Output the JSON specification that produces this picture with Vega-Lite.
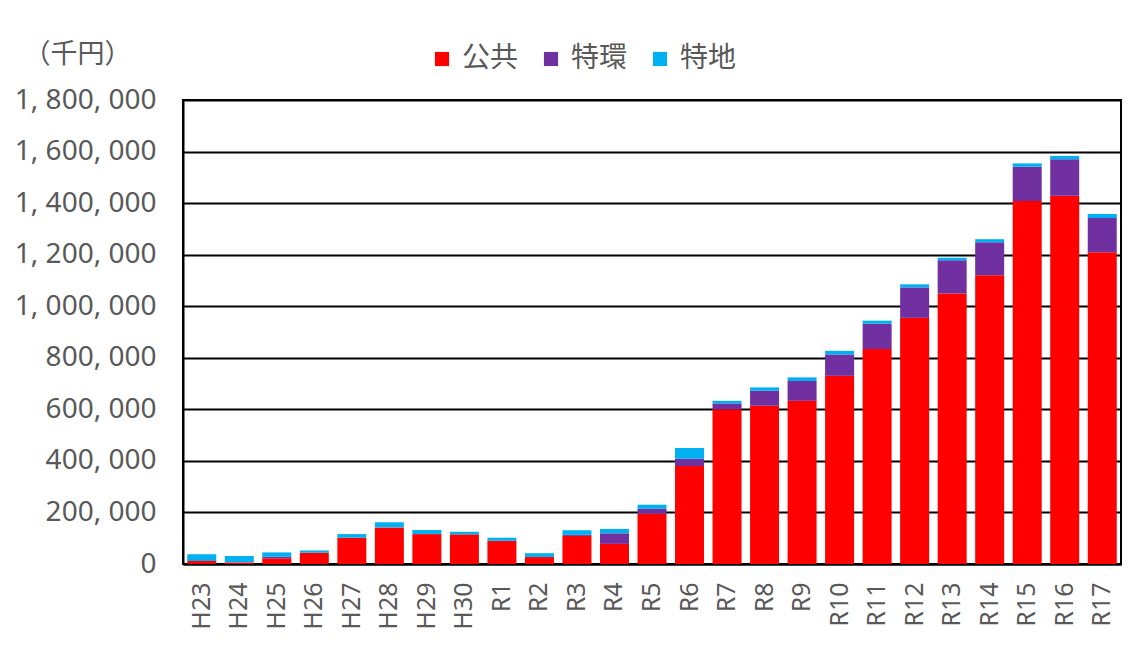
{
  "$schema": "https://vega.github.io/schema/vega-lite/v6.json",
  "width": 938,
  "height": 464,
  "autosize": "none",
  "padding": {"left": 183, "top": 100, "right": 8, "bottom": 84},
  "background": "white",
  "config": {
    "font": "Noto Sans CJK JP",
    "view": {"stroke": "black", "strokeWidth": 2}
  },
  "datasets": {
    "raw": [
      {"year": "H23", "公共": 12000, "特環": 0, "特地": 26000},
      {"year": "H24", "公共": 6000, "特環": 0, "特地": 25000},
      {"year": "H25", "公共": 22000, "特環": 6000, "特地": 17000},
      {"year": "H26", "公共": 44000, "特環": 0, "特地": 8000},
      {"year": "H27", "公共": 102000, "特環": 0, "特地": 14000},
      {"year": "H28", "公共": 142000, "特環": 0, "特地": 20000},
      {"year": "H29", "公共": 116000, "特環": 0, "特地": 16000},
      {"year": "H30", "公共": 115000, "特環": 0, "特地": 10000},
      {"year": "R1", "公共": 90000, "特環": 0, "特地": 12000},
      {"year": "R2", "公共": 27000, "特環": 0, "特地": 15000},
      {"year": "R3", "公共": 109000, "特環": 4000, "特地": 18000},
      {"year": "R4", "公共": 78000, "特環": 41000, "特地": 17000},
      {"year": "R5", "公共": 195000, "特環": 19000, "特地": 16000},
      {"year": "R6", "公共": 380000, "特環": 28000, "特地": 42000},
      {"year": "R7", "公共": 600000, "特環": 23000, "特地": 10000},
      {"year": "R8", "公共": 614000, "特環": 58000, "特地": 13000},
      {"year": "R9", "公共": 633000, "特環": 77000, "特地": 14000},
      {"year": "R10", "公共": 730000, "特環": 83000, "特地": 14000},
      {"year": "R11", "公共": 834000, "特環": 98000, "特地": 12000},
      {"year": "R12", "公共": 955000, "特環": 118000, "特地": 12000},
      {"year": "R13", "公共": 1049000, "特環": 129000, "特地": 10000},
      {"year": "R14", "公共": 1120000, "特環": 128000, "特地": 12000},
      {"year": "R15", "公共": 1408000, "特環": 133000, "特地": 13000},
      {"year": "R16", "公共": 1429000, "特環": 141000, "特地": 13000},
      {"year": "R17", "公共": 1209000, "特環": 133000, "特地": 16000}
    ]
  },
  "data": {"name": "raw"},
  "transform": [
    {"fold": ["公共", "特環", "特地"], "as": ["type", "value"]},
    {"calculate": "indexof(['公共','特環','特地'], datum.type)", "as": "ord"}
  ],
  "layer": [
    {
      "mark": {"type": "bar", "width": 29},
      "encoding": {
        "x": {
          "field": "year",
          "type": "nominal",
          "sort": null,
          "axis": {
            "title": null,
            "labelAngle": -90,
            "labelAlign": "right",
            "labelBaseline": "middle",
            "labelFont": "Noto Sans",
            "labelFontSize": 25,
            "labelColor": "#595959",
            "labelPadding": 18,
            "ticks": false,
            "domain": true,
            "domainColor": "black",
            "domainWidth": 2,
            "grid": false
          }
        },
        "y": {
          "field": "value",
          "type": "quantitative",
          "stack": "zero",
          "scale": {"domain": [0, 1800000], "nice": false},
          "axis": {
            "values": [0, 200000, 400000, 600000, 800000, 1000000, 1200000, 1400000, 1600000, 1800000],
            "labelExpr": "replace(format(datum.value, ','), /,/g, ', ')",
            "labelFont": "Noto Sans",
            "labelFontSize": 28,
            "labelColor": "#595959",
            "labelPadding": 27,
            "ticks": false,
            "domain": true,
            "domainColor": "black",
            "domainWidth": 2,
            "grid": true,
            "gridColor": "black",
            "gridWidth": 2,
            "gridOpacity": 1,
            "title": "（千円）",
            "titleAngle": 0,
            "titleAlign": "left",
            "titleBaseline": "middle",
            "titleFont": "Noto Sans CJK JP",
            "titleFontSize": 27,
            "titleFontWeight": "normal",
            "titleColor": "#595959",
            "titleX": -160,
            "titleY": -46
          }
        },
        "color": {
          "field": "type",
          "type": "nominal",
          "scale": {"domain": ["公共", "特環", "特地"], "range": ["#FF0000", "#7030A0", "#00B0F0"]},
          "legend": {
            "title": null,
            "orient": "none",
            "legendX": 245,
            "legendY": -55,
            "direction": "horizontal",
            "symbolType": "square",
            "symbolSize": 200,
            "symbolStrokeWidth": 0,
            "labelFont": "Noto Sans CJK JP",
            "labelFontSize": 28,
            "labelColor": "#595959",
            "labelOffset": 6,
            "columnPadding": 18
          }
        },
        "order": {"field": "ord", "type": "quantitative"}
      }
    }
  ]
}
